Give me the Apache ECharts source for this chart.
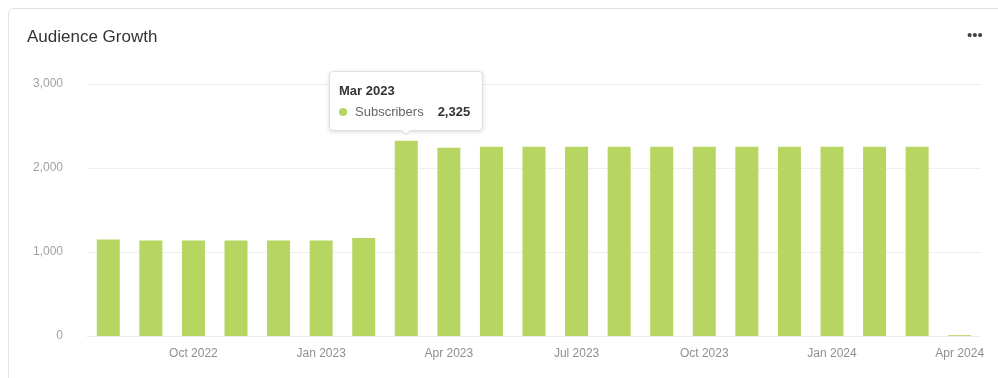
<!DOCTYPE html>
<html>
<head>
<meta charset="utf-8">
<script src="https://cdn.jsdelivr.net/npm/echarts@6/dist/echarts.min.js"></script>
<style>
html,body{margin:0;padding:0;background:#fff;}
#card{position:absolute;left:8px;top:8px;width:1000px;height:400px;border:1px solid #e3e3e3;border-radius:6px;box-sizing:border-box;}
#chart{position:absolute;left:0;top:0;width:998px;height:378px;}
</style>
</head>
<body>
<div id="card"></div>
<div id="chart"></div>
<script>
const categories = ['Aug 2022','Sep 2022','Oct 2022','Nov 2022','Dec 2022','Jan 2023','Feb 2023','Mar 2023','Apr 2023','May 2023','Jun 2023','Jul 2023','Aug 2023','Sep 2023','Oct 2023','Nov 2023','Dec 2023','Jan 2024','Feb 2024','Mar 2024','Apr 2024'];
const subscribers = [1150,1138,1138,1138,1138,1138,1166,2325,2242,2254,2254,2254,2254,2254,2254,2254,2254,2254,2254,2254,10];
const yTicks = [0,1000,2000,3000];

const chart = echarts.init(document.getElementById('chart'));
const font = '"Liberation Sans", Arial, Helvetica, sans-serif';
chart.setOption({
  animation:false,
  textStyle:{fontFamily:font},
  title:{text:'Audience Growth',left:22,top:24,textStyle:{fontSize:17,fontWeight:'normal',color:'#333',fontFamily:font}},
  graphic:[{type:'text',left:967,top:28,style:{text:'•••',fontSize:15,fill:'#444',fontFamily:font}}],
  grid:{left:87,right:17,top:84,bottom:42},
  xAxis:{type:'category',data:categories,
    axisLine:{show:true,lineStyle:{color:'#eeeeee'}},
    axisTick:{show:false},
    axisLabel:{color:'#8f8f8f',fontSize:12,margin:12,interval:(i)=>i%3===2,fontFamily:font}},
  yAxis:{type:'value',min:yTicks[0],max:yTicks[yTicks.length-1],interval:1000,
    axisLabel:{color:'#9f9f9f',fontSize:12,margin:24,formatter:(v)=>v.toLocaleString('en-US'),fontFamily:font},
    splitLine:{lineStyle:{color:'#efefef'}}},
  tooltip:{trigger:'item',position:'top',alwaysShowContent:true,transitionDuration:0,
    backgroundColor:'#fff',borderColor:'#e0e0e0',borderWidth:1,padding:[8,12,8,9],
    extraCssText:'box-shadow:0 1px 4px rgba(0,0,0,0.15);border-radius:4px;',
    formatter:(p)=>'<div style="font-family:'+font.replace(/"/g,"'")+';line-height:21px">'+
      '<div style="font-weight:bold;font-size:13px;color:#333">'+p.name+'</div>'+
      '<div style="font-size:13px;color:#666"><span style="display:inline-block;width:8px;height:8px;border-radius:4px;background:#b7d661;margin-right:8px"></span>Subscribers<span style="font-weight:bold;color:#333;margin-left:14px">'+p.value.toLocaleString('en-US')+'</span></div></div>'},
  series:[{type:'bar',name:'Subscribers',data:subscribers,barWidth:23,itemStyle:{color:'#b7d661'}}]
});
chart.dispatchAction({type:'showTip',seriesIndex:0,dataIndex:7});
</script>
</body>
</html>
